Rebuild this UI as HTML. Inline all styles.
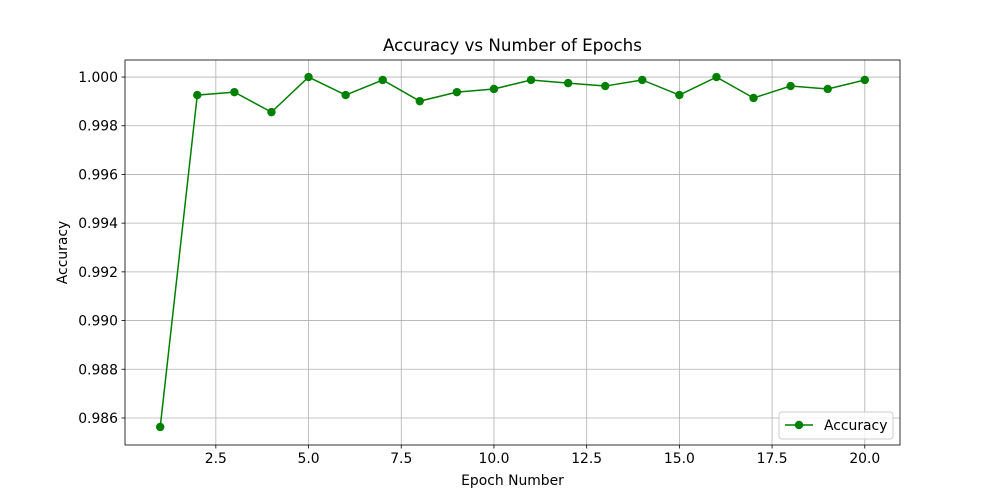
<!DOCTYPE html>
<html><head><meta charset="utf-8"><style>
html,body{margin:0;padding:0;background:#fff;}
svg{display:block;font-family:"DejaVu Sans","Liberation Sans",sans-serif;}
</style></head><body>
<svg id="chart" width="1000" height="500" xmlns="http://www.w3.org/2000/svg"></svg>
<script>
const epochs=[1,2,3,4,5,6,7,8,9,10,11,12,13,14,15,16,17,18,19,20];
const accuracy=[0.98563,0.99926,0.99938,0.99856,1.0,0.99926,0.99988,0.99901,0.99938,0.99951,0.99988,0.99975,0.99963,0.99988,0.99926,1.0,0.99914,0.99963,0.99951,0.99988];
const xTicks=[2.5,5.0,7.5,10.0,12.5,15.0,17.5,20.0];
const yTicks=[0.986,0.988,0.990,0.992,0.994,0.996,0.998,1.000];
const L=125,R=900,T=60,B=445;
const xMin=0.0505,xMax=20.9495,yMin=0.98489,yMax=1.0007;
const xs=v=>L+(v-xMin)/(xMax-xMin)*(R-L);
const ys=v=>B-(v-yMin)/(yMax-yMin)*(B-T);
const svg=document.getElementById('chart');
const NS='http://www.w3.org/2000/svg';
function mk(tag,attrs,parent){const e=document.createElementNS(NS,tag);for(const k in attrs)e.setAttribute(k,attrs[k]);(parent||svg).appendChild(e);return e;}
xTicks.forEach(t=>{const x=xs(t);
 const g=mk('line',{x1:x,x2:x,y1:T,y2:B,stroke:'#b0b0b0','stroke-width':0.8});
 
 
 mk('line',{x1:x,x2:x,y1:B,y2:B+3.5,stroke:'#000','stroke-width':0.8});
 const tx=mk('text',{x:x,y:B+18,'font-size':13.9,'text-anchor':'middle',fill:'#000'});tx.textContent=t.toFixed(1);
 
 
});
yTicks.forEach(t=>{const y=ys(t);
 const g=mk('line',{x1:L,x2:R,y1:y,y2:y,stroke:'#b0b0b0','stroke-width':0.8});
 
 
 mk('line',{x1:L-3.5,x2:L,y1:y,y2:y,stroke:'#000','stroke-width':0.8});
 const tx=mk('text',{x:L-7,y:y+5,'font-size':13.9,'text-anchor':'end',fill:'#000'});tx.textContent=t.toFixed(3);
 
 
});
const pts=epochs.map((e,i)=>xs(e)+','+ys(accuracy[i])).join(' ');
const pl=mk('polyline',{points:pts,fill:'none',stroke:'#008000','stroke-width':1.5});


epochs.forEach((e,i)=>{const c=mk('circle',{cx:xs(e),cy:ys(accuracy[i]),r:4.2,fill:'#008000'});
 
 });
const fr=mk('rect',{x:L,y:T,width:R-L,height:B-T,fill:'none',stroke:'#000','stroke-width':0.8});


const ti=mk('text',{x:(L+R)/2,y:T-9,'font-size':16.7,'text-anchor':'middle'});ti.textContent='Accuracy vs Number of Epochs';


const xl=mk('text',{x:(L+R)/2,y:485,'font-size':13.9,'text-anchor':'middle'});xl.textContent='Epoch Number';


const yl=mk('text',{x:0,y:0,'font-size':13.9,'text-anchor':'middle',transform:'translate(67,'+((T+B)/2)+') rotate(-90)'});yl.textContent='Accuracy';


const lg=mk('g',{});


mk('rect',{x:779,y:412,width:114,height:27,rx:3,fill:'#fff','fill-opacity':0.8,stroke:'#ccc','stroke-width':1},lg);
mk('line',{x1:785,x2:813,y1:425,y2:425,stroke:'#008000','stroke-width':1.5},lg);
mk('circle',{cx:799,cy:425,r:4.2,fill:'#008000'},lg);
const lt=mk('text',{x:824,y:430,'font-size':13.9},lg);lt.textContent='Accuracy';


</script>
</body></html>
